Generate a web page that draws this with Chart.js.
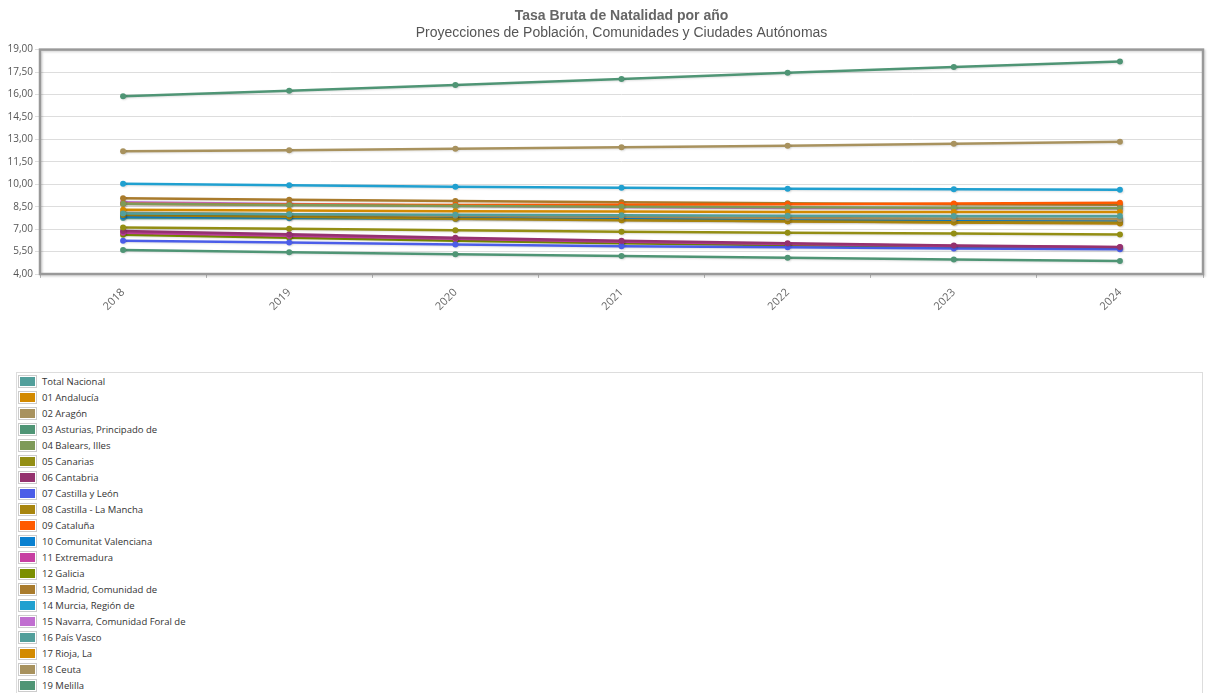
<!DOCTYPE html>
<html>
<head>
<meta charset="utf-8">
<script src="https://cdn.jsdelivr.net/npm/chart.js@4/dist/chart.umd.min.js"></script>
<style>
  body { margin: 0; background: #fff; }
  #grafico { position: absolute; left: 0; top: 0; width: 1210px; height: 340px; }
  #leyenda {
    position: absolute; left: 16px; top: 372px; width: 1187px; height: 340px;
    border: 1px solid #ddd; box-sizing: border-box;
    font-family: "Open Sans", "DejaVu Sans", sans-serif; font-size: 9.5px; color: #333;
  }
  .item { height: 16px; display: flex; align-items: center; }
  .muestra { width: 15px; height: 9px; border: 1px solid #ccc; padding: 1px; margin: 0 5px 0 1px; }
  .muestra div { width: 100%; height: 100%; }
</style>
</head>
<body>
<div id="grafico"><canvas id="chart-natalidad"></canvas></div>
<div id="leyenda"></div>
<script>
// años del eje X
const anios = ['2018', '2019', '2020', '2021', '2022', '2023', '2024'];

// tasa bruta de natalidad (por 1000 hab.)
const totalNacional = [8.05, 8.00, 7.96, 7.93, 7.90, 7.88, 7.87];
const andalucia     = [8.30, 8.25, 8.20, 8.17, 8.15, 8.14, 8.14];
const aragon        = [8.10, 8.00, 7.90, 7.82, 7.75, 7.70, 7.66];
const asturias      = [5.60, 5.45, 5.32, 5.20, 5.08, 4.97, 4.87];
const balears       = [8.70, 8.62, 8.55, 8.50, 8.46, 8.43, 8.40];
const canarias      = [7.10, 7.02, 6.93, 6.83, 6.76, 6.70, 6.64];
const cantabria     = [6.88, 6.65, 6.43, 6.22, 6.05, 5.91, 5.80];
const castillaLeon  = [6.22, 6.10, 5.98, 5.86, 5.78, 5.71, 5.66];
const castillaMancha= [7.95, 7.82, 7.70, 7.60, 7.52, 7.46, 7.42];
const cataluna      = [8.70, 8.65, 8.62, 8.63, 8.66, 8.71, 8.76];
const valenciana    = [7.85, 7.78, 7.72, 7.67, 7.63, 7.60, 7.58];
const extremadura   = [6.75, 6.55, 6.35, 6.15, 6.00, 5.87, 5.78];
const galicia       = [6.62, 6.42, 6.22, 6.05, 5.92, 5.82, 5.75];
const madrid        = [9.07, 8.97, 8.88, 8.80, 8.73, 8.67, 8.63];
const murcia        = [10.03, 9.93, 9.84, 9.76, 9.70, 9.66, 9.64];
const navarra       = [8.80, 8.68, 8.57, 8.48, 8.42, 8.40, 8.40];
const paisVasco     = [7.75, 7.72, 7.70, 7.68, 7.68, 7.69, 7.70];
const rioja         = [8.05, 7.90, 7.75, 7.63, 7.52, 7.44, 7.37];
const ceuta         = [12.20, 12.27, 12.37, 12.47, 12.58, 12.70, 12.84];
const melilla       = [15.88, 16.25, 16.64, 17.04, 17.45, 17.84, 18.20];

const nombres = ['Total Nacional', '01 Andalucía', '02 Aragón', '03 Asturias, Principado de',
  '04 Balears, Illes', '05 Canarias', '06 Cantabria', '07 Castilla y León', '08 Castilla - La Mancha',
  '09 Cataluña', '10 Comunitat Valenciana', '11 Extremadura', '12 Galicia', '13 Madrid, Comunidad de',
  '14 Murcia, Región de', '15 Navarra, Comunidad Foral de', '16 País Vasco', '17 Rioja, La',
  '18 Ceuta', '19 Melilla'];
const valores = [totalNacional, andalucia, aragon, asturias, balears, canarias, cantabria, castillaLeon,
  castillaMancha, cataluna, valenciana, extremadura, galicia, madrid, murcia, navarra, paisVasco,
  rioja, ceuta, melilla];

// paleta (se repite cada 16 series)
const colores = ['#529f9b', '#d38a00', '#a8925e', '#4f9575', '#7e9a58', '#938e14', '#95326f', '#4b5de8',
  '#a8850e', '#ff5a00', '#0a80d0', '#c73fa2', '#7b8f00', '#a97b2c', '#20a0d0', '#c06ed0'];

const datasets = nombres.map((nombre, i) => ({
  label: nombre,
  data: valores[i],
  borderColor: colores[i % colores.length],
  backgroundColor: colores[i % colores.length],
  borderWidth: 2.5,
  pointRadius: 3,
  pointBorderWidth: 0,
  pointHoverRadius: 4,
  tension: 0,
  fill: false
}));

// marco gris alrededor del área de trazado
const marco = {
  id: 'marco',
  beforeDatasetsDraw(chart) {
    const { ctx, chartArea: a } = chart;
    ctx.save();
    ctx.shadowColor = 'rgba(0,0,0,0.15)';
    ctx.shadowOffsetX = 1.5;
    ctx.shadowOffsetY = 1.5;
    ctx.shadowBlur = 2;
    ctx.strokeStyle = '#999';
    ctx.lineWidth = 2.5;
    ctx.strokeRect(a.left, a.top, a.right - a.left, a.bottom - a.top);
    ctx.restore();
  }
};

// sombra suave de las líneas
const sombra = {
  id: 'sombra',
  beforeDatasetDraw(chart) {
    const ctx = chart.ctx;
    ctx.save();
    ctx.shadowColor = 'rgba(0,0,0,0.12)';
    ctx.shadowOffsetX = 1;
    ctx.shadowOffsetY = 1;
    ctx.shadowBlur = 2;
  },
  afterDatasetDraw(chart) {
    chart.ctx.restore();
  }
};

const fuenteEje = { family: '"Open Sans", "DejaVu Sans", sans-serif', size: 10 };

var chart_natalidad = new Chart(document.getElementById('chart-natalidad').getContext('2d'), {
  type: 'line',
  data: { labels: anios, datasets: datasets },
  options: {
    responsive: true,
    maintainAspectRatio: false,
    animation: false,
    layout: { padding: { left: 0, right: 7, top: 0, bottom: 0 } },
    plugins: {
      legend: { display: false },
      tooltip: { enabled: false },
      title: {
        display: true,
        fullSize: false,
        text: 'Tasa Bruta de Natalidad por año',
        color: '#666',
        font: { family: '"Liberation Sans", Arial, sans-serif', size: 14, weight: 'bold' },
        padding: { top: 8, bottom: 0 }
      },
      subtitle: {
        display: true,
        fullSize: false,
        text: 'Proyecciones de Población, Comunidades y Ciudades Autónomas',
        color: '#555',
        font: { family: '"Liberation Sans", Arial, sans-serif', size: 14 },
        padding: { top: 0, bottom: 8 }
      }
    },
    scales: {
      x: {
        offset: true,
        grid: { offset: true, drawOnChartArea: false, drawTicks: true, tickLength: 4, color: '#bbb' },
        border: { display: false },
        ticks: { color: '#666', font: { family: '"Open Sans", "DejaVu Sans", sans-serif', size: 11 }, minRotation: 45, maxRotation: 45, padding: 8 },
        afterFit(scale) { scale.height = 66; }
      },
      y: {
        min: 4,
        max: 19,
        grid: { color: '#ddd', tickLength: 5, drawTicks: true },
        border: { display: false },
        ticks: {
          stepSize: 1.5,
          color: '#555',
          font: fuenteEje,
          padding: 2,
          callback: v => v.toFixed(2).replace('.', ',')
        },
        afterFit(scale) { scale.width = 40; }
      }
    }
  },
  plugins: [marco, sombra]
});

// leyenda en columna, construida desde los datasets
const leyenda = document.getElementById('leyenda');
chart_natalidad.data.datasets.forEach(ds => {
  const item = document.createElement('div');
  item.className = 'item';
  item.innerHTML = '<div class="muestra"><div style="background:' + ds.borderColor + '"></div></div>' + ds.label;
  leyenda.appendChild(item);
});
</script>
</body>
</html>
